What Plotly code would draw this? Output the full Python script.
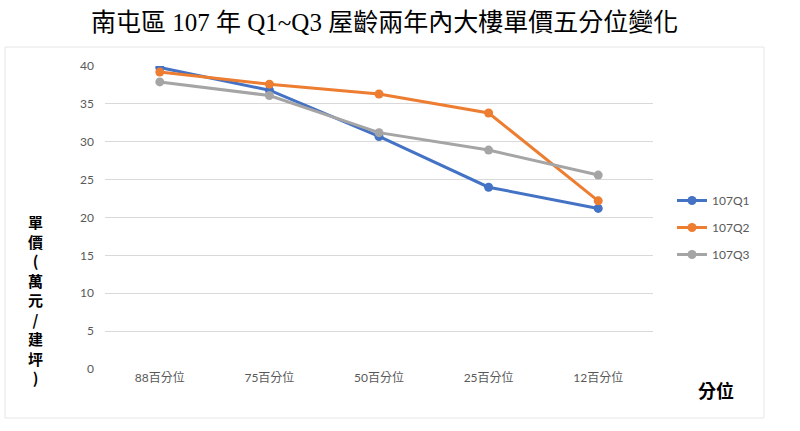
import plotly.graph_objects as go

categories = ["88百分位", "75百分位", "50百分位", "25百分位", "12百分位"]
q1 = [39.8, 36.8, 30.7, 24.0, 21.2]
q2 = [39.2, 37.6, 36.3, 33.8, 22.2]
q3 = [37.9, 36.1, 31.2, 28.9, 25.6]
series_names = ["107Q1", "107Q2", "107Q3"]
colors = ["#4472C4", "#ED7D31", "#A5A5A5"]
title_text = "南屯區 107 年 Q1~Q3 屋齡兩年內大樓單價五分位變化"
ytitle_chars = ["單", "價", "(", "萬", "元", "/", "建", "坪", ")"]
xtitle_text = "分位"

W, H = 800, 431
L, R, T, B = 105, 147, 66, 62
pw, ph = W - L - R, H - T - B

def px_x(x):
    return (x - L) / pw

def px_y(y):
    return (H - B - y) / ph

fig = go.Figure()
for i, (name, vals) in enumerate(zip(series_names, [q1, q2, q3])):
    fig.add_trace(go.Scatter(
        x=categories, y=vals, name=name, mode="lines+markers",
        line=dict(color=colors[i], width=3),
        marker=dict(color=colors[i], size=9),
        legendgroup=name,
    ))

tick_font = dict(family="Lato, Noto Sans CJK TC, sans-serif", size=12, color="#595959")

fig.update_layout(
    width=W, height=H,
    margin=dict(l=L, r=R, t=T, b=B),
    paper_bgcolor="white", plot_bgcolor="white",
    showlegend=True,
    legend=dict(
        x=px_x(672), y=px_y(186), xanchor="left", yanchor="top",
        font=dict(family="Lato, Noto Sans CJK TC, sans-serif", size=12, color="#595959"),
        traceorder="grouped", tracegroupgap=8,
        bgcolor="rgba(0,0,0,0)", itemwidth=30,
    ),
    xaxis=dict(
        range=[-0.5, 4.5], showgrid=False, zeroline=False, showline=False,
        ticks="", tickfont=tick_font, fixedrange=True,
    ),
    yaxis=dict(
        range=[0, 40], dtick=5, showgrid=True, gridcolor="#D9D9D9", gridwidth=1,
        zeroline=False, showline=False, ticks="", tickfont=tick_font,
        ticklabelstandoff=10,
    ),
    shapes=[dict(
        type="rect", xref="paper", yref="paper",
        x0=px_x(5), x1=px_x(764), y0=px_y(418), y1=px_y(47),
        line=dict(color="#E6E6E6", width=1), fillcolor="rgba(0,0,0,0)", layer="below",
    )],
)

annotations = [
    dict(text=title_text, xref="paper", yref="paper", x=px_x(384), y=px_y(22),
         xanchor="center", yanchor="middle", showarrow=False,
         font=dict(family="Liberation Serif, Noto Sans CJK TC, serif", size=25, color="black")),
    dict(text="<b>" + xtitle_text + "</b>", xref="paper", yref="paper", x=px_x(716), y=px_y(390),
         xanchor="center", yanchor="middle", showarrow=False,
         font=dict(family="Noto Sans CJK TC, sans-serif", size=18, color="black")),
    dict(text="<b>" + "<br>".join(ytitle_chars) + "</b>", xref="paper", yref="paper",
         x=px_x(35), y=px_y(299), xanchor="center", yanchor="middle",
         showarrow=False, align="center",
         font=dict(family="Noto Sans CJK TC, sans-serif", size=15, color="black")),
]
fig.update_layout(annotations=annotations)

fig.write_html("out.html")
